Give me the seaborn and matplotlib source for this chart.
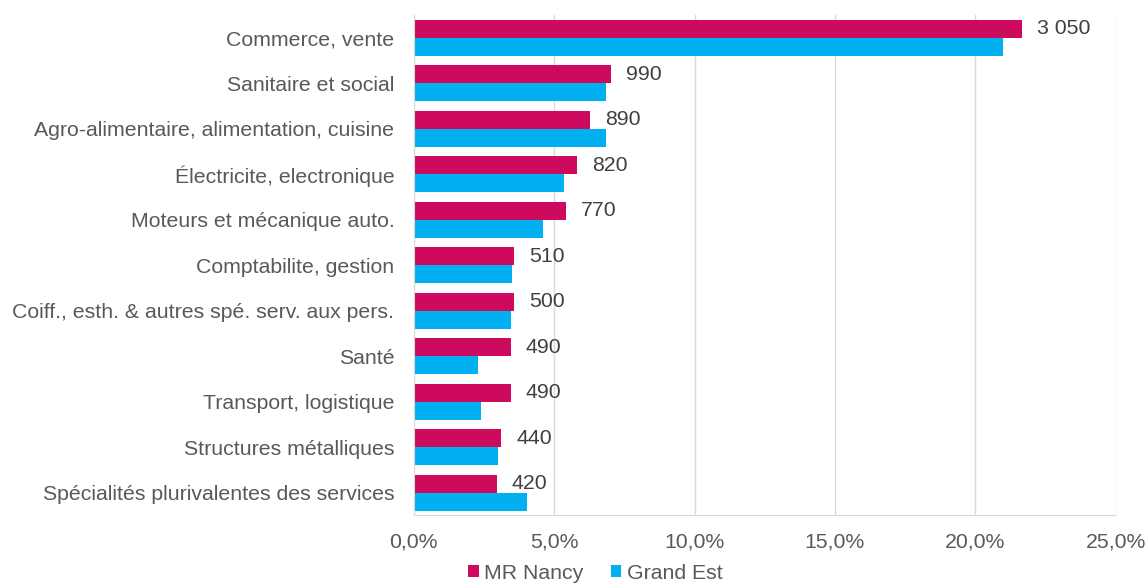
import matplotlib

matplotlib.use("Agg")
import matplotlib.pyplot as plt
import pandas as pd
import seaborn as sns
from matplotlib.ticker import FuncFormatter, MultipleLocator

# Données (part des formations, en %)
categories = [
    "Commerce, vente",
    "Sanitaire et social",
    "Agro-alimentaire, alimentation, cuisine",
    "Électricite, electronique",
    "Moteurs et mécanique auto.",
    "Comptabilite, gestion",
    "Coiff., esth. & autres spé. serv. aux pers.",
    "Santé",
    "Transport, logistique",
    "Structures métalliques",
    "Spécialités plurivalentes des services",
]
mr_nancy_pct = [21.65, 7.01, 6.28, 5.82, 5.42, 3.58, 3.57, 3.45, 3.45, 3.11, 2.95]
grand_est_pct = [21.0, 6.84, 6.84, 5.35, 4.62, 3.50, 3.45, 2.29, 2.41, 2.99, 4.02]
mr_nancy_effectifs = ["3 050", "990", "890", "820", "770", "510", "500", "490", "490", "440", "420"]
series = ["MR Nancy", "Grand Est"]
couleurs = ["#CE0A5E", "#00B0F0"]

# Format long pour seaborn
tableau = pd.DataFrame(
    {
        "formation": categories * 2,
        "part": mr_nancy_pct + grand_est_pct,
        "zone": [series[0]] * len(categories) + [series[1]] * len(categories),
    }
)

sns.set_style("white")
plt.rcParams["font.family"] = ["Liberation Sans", "DejaVu Sans"]
taille = 15.3

fig = plt.figure(figsize=(11.47, 5.83), dpi=100)
ax = fig.add_axes([0.3607, 0.1158, 0.612, 0.8585])

sns.barplot(
    data=tableau,
    y="formation",
    x="part",
    hue="zone",
    hue_order=series,
    palette=couleurs,
    orient="h",
    saturation=1,
    linewidth=0,
    errorbar=None,
    ax=ax,
)

# Etiquettes d'effectifs sur les barres MR Nancy
ax.bar_label(ax.containers[0], labels=mr_nancy_effectifs, padding=11, fontsize=taille, color="#404040")

ax.set_xlim(0, 25)
ax.xaxis.set_major_locator(MultipleLocator(5))
ax.xaxis.set_major_formatter(FuncFormatter(lambda v, p: f"{v:.1f}%".replace(".", ",")))
ax.set_xlabel("")
ax.set_ylabel("")
ax.grid(axis="x", color="#D9D9D9", linewidth=1)
ax.set_axisbelow(True)
for cote in ["top", "right"]:
    ax.spines[cote].set_visible(False)
ax.spines["bottom"].set_color("#D9D9D9")
ax.spines["left"].set_color("#D9D9D9")
ax.tick_params(axis="y", length=0, pad=14, labelsize=taille, labelcolor="#595959")
ax.tick_params(axis="x", length=0, pad=12, labelsize=taille, labelcolor="#595959")

ax.get_legend().remove()
poignees, noms = ax.get_legend_handles_labels()
fig.legend(
    poignees,
    noms,
    loc="center",
    bbox_to_anchor=(0.519, 0.017),
    ncol=2,
    frameon=False,
    fontsize=taille,
    labelcolor="#595959",
    handlelength=0.5,
    handleheight=0.5,
    handletextpad=0.25,
    columnspacing=1.3,
)

fig.savefig("out.png", dpi=100)
